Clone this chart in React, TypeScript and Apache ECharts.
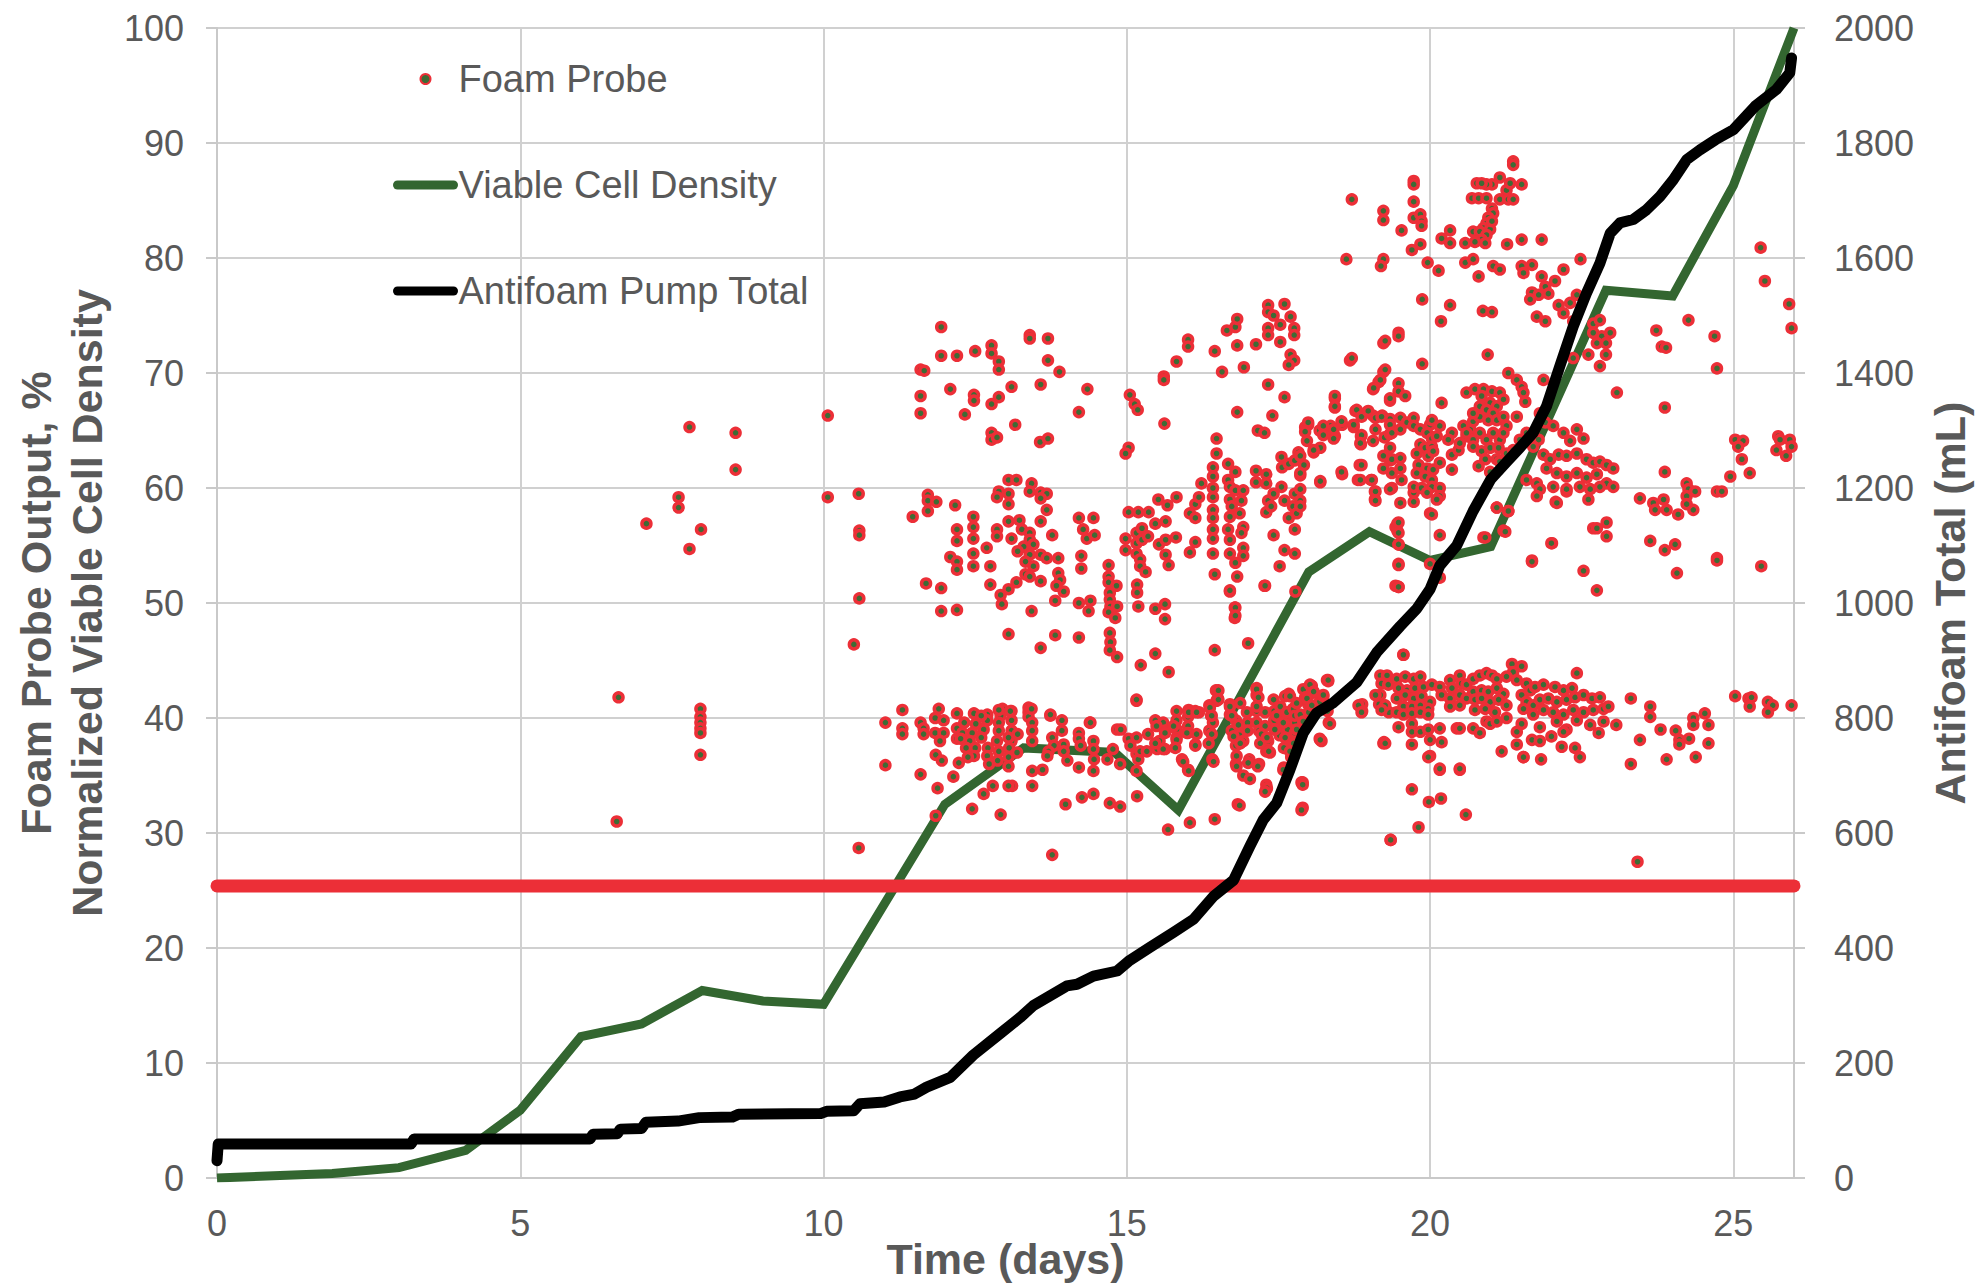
import React, { useEffect, useRef } from "react";
import * as echarts from "echarts";

const FONT = "'Liberation Sans', Arial, Helvetica, sans-serif";
const TEXT = "#595959";
const GRID = "#d0d0d0";

const seriesNames = ["Foam Probe", "Viable Cell Density", "Antifoam Pump Total"];
const xAxisTitle = "Time (days)";
const leftAxisTitle = "Foam Probe Output, %\nNormalized Viable Cell Density";
const rightAxisTitle = "Antifoam Total (mL)";

// Viable Cell Density (left axis, %) : [day, value]
const viableCellDensity: [number, number][] = [
  [0, 0], [1.9, 0.4], [3.0, 0.9], [4.1, 2.4], [5.0, 5.9], [6.0, 12.3], [7.0, 13.4],
  [8.0, 16.3], [9.0, 15.4], [10.0, 15.1], [12.0, 32.5], [13.3, 37.4], [14.8, 37.0],
  [15.85, 32.0], [18.0, 52.7], [19.0, 56.2], [20.0, 53.7], [21.0, 54.9], [22.9, 77.2],
  [24.0, 76.7], [25.0, 86.3], [26.0, 100],
];

// Antifoam pump total (right axis, mL) : [day, mL]
const antifoamTotal: [number, number][] = [
  [0, 30], [0.02, 59], [3.2, 59], [3.25, 68], [6.15, 68], [6.2, 76], [6.6, 77], [6.65, 85],
  [7.0, 86], [7.07, 97], [7.6, 99], [7.95, 105], [8.5, 106], [8.6, 111], [9.95, 112],
  [10.05, 116], [10.5, 117], [10.6, 129], [11.0, 132], [11.26, 141], [11.5, 146], [11.7, 158],
  [12.09, 175], [12.47, 214], [12.91, 251], [13.24, 279], [13.46, 300], [14.01, 334],
  [14.18, 337], [14.45, 351], [14.84, 360], [15.03, 377], [15.38, 401], [15.77, 427],
  [16.1, 450], [16.43, 490], [16.76, 518], [17.03, 577], [17.25, 623], [17.47, 652],
  [17.69, 710], [17.91, 774], [18.13, 809], [18.41, 827], [18.79, 862], [19.12, 914],
  [19.51, 960], [19.78, 990], [20.0, 1024], [20.16, 1065], [20.44, 1100], [20.71, 1160],
  [21.0, 1215], [21.26, 1245], [21.48, 1270], [21.7, 1296], [21.92, 1342], [22.14, 1412],
  [22.36, 1481], [22.58, 1539], [22.8, 1591], [22.97, 1643], [23.13, 1661], [23.35, 1667],
  [23.57, 1684], [23.79, 1707], [24.01, 1736], [24.23, 1771], [24.45, 1788], [24.71, 1806],
  [25.0, 1823], [25.36, 1864], [25.71, 1893], [25.93, 1922], [25.96, 1948],
];

// Foam probe resting output (dense band of readings)
const foamProbeBaseline: [number, number][] = [[0, 25.4], [26, 25.4]];

// Foam probe readings above the resting level : [day, %]
const foamProbePoints: [number, number][] = [
  [7.79,65.3],[8.55,64.8],[8.55,61.6],[7.61,59.2],[7.61,58.3],[7.08,56.9],[7.98,56.4],[7.79,54.7],[6.62,41.8],[7.97,40.8],[7.97,40.1],[7.97,39.6],[7.97,39.1],[7.97,38.7],[7.97,36.8],[6.59,31.0],[10.07,66.3],[10.07,59.2],[10.58,59.5],[10.59,56.3],[10.59,55.9],[10.59,50.4],[10.5,46.4],[10.58,28.7],[11.94,74.0],[11.94,71.5],[12.2,71.5],[11.6,70.3],[11.66,70.2],[12.09,68.6],[11.6,68.0],[11.6,66.5],[11.72,59.4],[11.72,58.9],[11.86,58.8],[11.47,57.5],[11.72,58.0],[12.17,58.5],[12.2,56.4],[12.2,55.4],[12.09,54.0],[12.2,53.6],[12.2,52.9],[11.69,51.7],[11.94,51.3],[11.94,49.3],[12.2,49.4],[11.02,39.6],[11.3,40.7],[11.3,39.1],[11.3,38.6],[11.6,39.6],[11.65,39.1],[11.65,38.6],[11.9,40.8],[11.84,40.0],[11.98,39.8],[11.84,38.7],[11.98,38.7],[11.92,38.0],[12.2,40.4],[12.2,39.1],[12.2,38.2],[11.02,35.9],[11.85,36.8],[11.95,36.3],[11.6,35.1],[11.88,33.9],[12.14,34.9],[11.85,31.5],
  [12.5,71.9],[12.77,72.4],[12.77,71.7],[12.89,71.0],[12.89,70.3],[13.4,73.3],[13.4,73.0],[13.7,73.0],[13.7,71.1],[13.89,70.1],[13.1,68.8],[13.58,69.0],[12.89,67.9],[12.77,67.3],[12.48,68.1],[12.48,67.6],[12.33,66.4],[14.35,68.6],[14.21,66.6],[13.16,65.5],[12.77,64.8],[12.77,64.2],[12.86,64.4],[13.57,64.0],[13.7,64.3],[15.05,68.1],[15.13,67.3],[15.18,66.8],[15.62,65.6],[15.61,69.7],[15.61,69.4],[15.03,63.5],[14.98,63.0],[15.82,71.0],[16.01,72.9],[16.01,72.3],[16.45,71.9],[16.57,70.1],[16.65,73.7],[16.79,74.0],[16.82,74.7],[16.93,70.5],[16.82,72.4],[17.13,72.5],[17.33,75.9],[17.33,75.3],[17.33,73.9],[17.33,73.3],[17.42,75.0],[17.53,74.2],[17.53,72.7],[17.6,76.0],[17.7,74.9],[17.76,73.9],[17.76,73.3],[17.7,71.6],[17.76,71.1],[17.67,70.7],[17.33,69.0],[17.6,67.9],[16.82,66.6],[17.4,66.3],[17.16,65.0],[17.27,64.8],[16.48,64.3],[18.68,71.1],[19.23,72.6],[19.23,70.1],[19.15,69.2],[19.06,68.6],
  [13.05,60.7],[13.18,60.7],[13.43,60.4],[12.89,59.7],[13.05,59.5],[12.86,59.2],[13.4,59.7],[13.58,59.6],[13.68,59.5],[13.58,59.1],[13.05,58.6],[13.68,58.1],[13.58,57.1],[13.05,57.1],[13.23,57.2],[12.86,56.4],[12.86,55.8],[13.1,55.6],[13.27,56.4],[13.4,56.1],[13.4,55.5],[13.77,55.9],[13.3,54.9],[13.46,55.1],[13.2,54.5],[13.4,54.2],[13.58,54.2],[13.68,53.9],[13.33,53.6],[13.46,53.2],[13.33,52.5],[13.4,52.3],[13.18,51.8],[13.58,51.9],[13.87,53.9],[13.87,52.6],[13.9,52.0],[13.84,51.5],[13.96,51.0],[14.25,54.1],[14.25,53.0],[14.21,57.4],[14.28,56.4],[14.34,55.6],[14.47,55.9],[14.45,57.4],[14.7,53.3],[14.7,52.3],[14.7,51.8],[14.83,51.5],[14.72,50.9],[14.72,50.3],[14.73,49.7],[14.84,49.7],[14.7,49.2],[14.81,48.7],[14.72,47.4],[14.73,46.6],[14.72,45.9],[14.84,45.3],[13.05,47.3],[13.58,46.1],[13.82,47.2],[14.21,47.0],[14.21,50.0],[14.37,49.3],[14.4,50.2],[13.82,50.2],[12.94,49.9],[12.92,50.7],[13.05,51.2],[13.43,49.3],[12.75,51.6],[12.75,53.2],[12.69,54.8],[12.47,54.3],[12.47,53.2],[12.47,57.5],[12.47,56.6],[12.47,55.6],[15.03,57.9],[15.19,57.9],[15.36,57.9],[15.52,59.0],[15.67,58.5],[15.82,59.2],[14.98,55.6],[14.98,54.6],[15.16,56.1],[15.25,56.5],[15.16,55.2],[15.25,55.5],[15.35,55.8],[15.16,54.3],[15.22,53.8],[15.22,53.2],[15.31,52.7],[15.47,56.9],[15.64,57.1],[15.53,55.1],[15.64,55.5],[15.81,55.7],[15.64,54.2],[15.69,53.3],[15.17,51.6],[15.17,50.9],[15.19,49.7],[15.47,49.5],[15.63,49.9],[15.63,48.6],[15.23,44.6],[15.47,45.6],[15.69,44.0],[16.45,45.9],[17.0,46.5],[16.04,57.8],[16.13,58.6],[16.19,59.2],[16.23,60.4],[16.13,57.4],[16.13,55.3],[16.04,54.4],[16.42,61.8],[16.42,61.0],[16.42,60.0],[16.42,59.2],[16.42,58.1],[16.42,57.4],[16.42,56.4],[16.42,55.6],[16.42,54.3],[16.48,63.0],[16.67,62.1],[16.67,60.7],[16.7,60.1],[16.7,59.0],[16.73,58.4],[16.7,57.5],[16.67,56.4],[16.7,55.5],[16.7,54.3],[16.79,53.5],[16.82,52.3],[16.79,61.4],[16.79,59.8],[16.92,59.8],[16.89,58.9],[16.86,57.8],[16.92,56.6],[16.89,56.1],[16.92,54.8],[16.92,54.1],[16.45,52.5],[16.7,51.0],[16.78,49.6],[16.78,48.7],[17.13,61.5],[17.13,60.5],[17.3,61.2],[17.3,60.4],[17.33,58.9],[17.3,57.9],[17.42,59.5],[17.38,58.4],[17.55,62.7],[17.56,61.8],[17.67,62.1],[17.77,62.4],[17.83,63.1],[17.92,62.0],[17.86,61.1],[17.55,60.1],[17.6,58.9],[17.77,59.5],[17.86,58.9],[17.74,58.4],[17.8,57.8],[17.67,57.4],[17.77,56.4],[17.42,55.9],[17.6,54.6],[17.77,54.3],[17.52,53.2],[17.27,51.5],[17.94,65.3],[17.99,65.5],[18.18,65.0],[18.36,65.4],[18.55,65.5],[18.43,64.5],[18.08,63.1],[18.19,63.5],[18.43,67.8],[18.43,67.0],[18.55,61.2],[18.19,60.5],[18.77,66.7],[18.96,66.6],[19.06,66.3],[19.21,66.3],[19.34,66.0],[18.74,65.3],[18.86,64.5],[18.86,63.8],[19.06,64.1],[19.25,64.4],[18.84,62.0],[18.81,60.7],[19.03,60.7],[19.09,59.7],[19.09,59.0],[19.34,67.6],[19.34,64.7],[19.34,63.5],[19.34,62.4],[19.43,56.6],[19.43,51.5],[19.23,37.8],
  [15.16,41.5],[13.38,40.9],[13.38,40.5],[13.38,40.1],[13.44,39.6],[13.44,38.9],[13.44,38.0],[13.1,40.6],[13.1,39.8],[13.1,38.9],[13.1,38.0],[12.95,40.8],[12.92,40.2],[12.89,39.6],[12.89,38.9],[12.86,38.0],[12.89,37.1],[12.87,36.3],[12.7,40.3],[12.7,39.8],[12.64,39.0],[12.6,38.3],[12.71,37.4],[12.7,36.7],[12.73,36.0],[12.54,40.2],[12.51,39.5],[12.45,38.7],[12.41,38.0],[12.5,37.4],[12.48,36.7],[12.32,39.6],[12.29,38.7],[12.26,38.2],[12.35,37.4],[12.38,36.6],[12.23,36.1],[13.05,38.3],[13.06,37.4],[13.05,36.6],[13.05,35.8],[13.2,38.6],[13.19,37.0],[13.74,40.2],[13.93,39.8],[13.93,38.9],[13.77,38.3],[13.8,37.6],[13.96,37.7],[13.96,37.1],[14.02,36.3],[13.71,37.1],[13.69,36.7],[13.61,35.5],[13.44,35.4],[14.21,38.7],[14.21,38.2],[14.21,35.7],[14.24,37.6],[14.39,39.6],[14.45,38.0],[14.45,37.3],[14.46,36.4],[14.45,35.4],[14.68,36.4],[14.77,37.3],[14.84,39.0],[14.9,39.0],[14.89,36.0],[15.03,38.2],[15.06,37.6],[15.16,38.3],[15.16,36.9],[15.19,36.4],[15.16,35.4],[15.22,37.1],[15.33,37.1],[15.35,38.6],[15.47,39.8],[15.54,38.0],[15.5,37.3],[15.6,39.6],[15.63,38.9],[15.63,37.3],[15.82,40.6],[15.82,39.8],[15.82,39.0],[15.82,38.3],[15.91,36.4],[16.01,35.5],[16.01,40.6],[16.01,40.1],[16.01,39.3],[16.01,38.7],[16.13,40.6],[16.13,37.7],[16.36,41.1],[16.39,40.2],[16.36,38.9],[16.42,39.6],[16.48,41.5],[16.7,41.2],[16.7,40.3],[16.8,39.8],[16.73,38.9],[16.8,37.6],[16.86,38.5],[16.92,38.0],[16.8,36.0],[16.92,35.0],[16.99,39.6],[16.99,38.9],[17.02,36.4],[17.14,40.6],[17.14,39.6],[17.18,38.9],[17.18,36.0],[17.3,37.1],[17.33,38.0],[17.36,37.0],[17.3,34.2],[17.3,33.8],[17.43,40.6],[17.43,39.8],[17.46,39.0],[17.52,38.5],[17.62,40.1],[17.65,39.0],[17.59,37.4],[17.74,40.8],[17.77,39.6],[17.77,38.7],[17.8,37.7],[17.71,36.6],[17.9,34.4],[17.9,32.2],[16.83,32.5],[17.59,35.7],[16.41,36.4],[16.45,31.2],[16.04,30.9],[15.68,30.3],[15.17,33.2],[14.89,32.3],[14.72,32.6],[14.45,33.4],[14.26,33.1],[13.99,32.5],[13.44,34.1],[13.11,34.1],[13.05,34.1],[12.79,34.1],[12.64,33.4],[12.45,32.1],[12.92,31.6],[13.77,28.1],[18.33,39.6],[18.31,40.6],[18.18,38.2],[18.88,41.2],[18.88,40.6],[19.24,37.9],[19.35,29.4],[19.16,41.2],[19.26,40.9],[19.32,40.5],[17.99,41.2],[18.09,40.6],[18.18,41.4],[17.99,40.1],
  [12.48,40.4],[12.6,40.2],[12.89,40.7],[13.08,40.6],[13.43,40.8],[13.74,40.3],[14.4,39.6],[15.16,41.6],[16.02,40.7],[16.19,40.5],[16.47,42.4],[16.5,41.7],[17.14,42.6],[17.14,42.0],[17.67,42.1],[18.02,42.8],[18.3,43.3],
  [15.49,39.3],[15.63,38.7],[15.77,39.3],[15.82,38.1],[15.47,37.8],[15.6,37.3],[15.8,37.4],[16.02,40.5],[16.15,40.5],[15.99,38.7],[16.15,38.6],[16.13,37.6],[15.93,36.2],[16.02,35.4],[16.37,40.9],[16.51,42.4],[16.51,41.6],[16.4,40.2],[16.4,38.6],[16.35,37.8],[16.43,36.2],[16.7,41.0],[16.87,41.3],[16.73,40.2],[16.84,39.4],[16.98,40.5],[16.76,38.4],[16.87,37.8],[16.81,36.7],[17.0,36.1],[16.81,35.8],[17.16,35.8],[17.14,42.5],[17.17,41.8],[17.14,41.0],[17.28,40.5],[17.28,39.3],[17.22,38.6],[17.2,37.8],[17.34,37.1],[17.31,38.3],[17.42,41.6],[17.53,41.0],[17.61,41.9],[17.47,40.2],[17.58,39.6],[17.64,40.5],[17.75,40.8],[17.44,39.0],[17.61,38.3],[17.69,41.9],[17.8,41.3],[17.91,42.5],[17.94,41.8],[18.05,42.8],[18.08,42.2],[18.24,41.9],[18.32,43.2],[17.77,40.2],[17.91,39.9],[18.02,41.0],[17.8,39.0],[17.75,37.8],[17.69,37.1],[18.21,38.0],[17.58,35.5],[17.88,34.4],[17.88,32.0],[17.31,33.9],[17.28,33.6],[16.86,32.4],[17.03,34.7],[20.49,35.5],[20.0,36.7],[20.16,35.5],
  [16.7,51.1],[16.79,49.6],[16.79,48.9],[17.28,51.5],[17.78,51.0],[19.48,55.1],[19.48,53.4],[19.48,51.4],[19.46,56.9],[19.46,56.3],[20.0,53.4],[20.16,55.9],[20.16,52.2],[20.88,55.7],[21.1,58.3],[21.29,58.0],[21.21,56.3],[21.68,53.7],[22.01,55.2],[22.07,58.8],[19.56,45.5],
  [21.37,88.4],[21.37,88.1],[21.15,87.0],[21.02,86.4],[20.93,86.4],[20.77,86.5],[20.85,86.5],[21.26,85.9],[21.32,86.5],[21.51,86.4],[20.69,85.2],[20.8,85.2],[20.93,85.2],[21.15,85.1],[21.29,85.1],[21.37,85.1],[21.02,84.3],[21.04,83.9],[20.96,83.5],[20.93,83.0],[20.88,82.6],[20.99,82.5],[21.02,83.2],[20.71,82.3],[20.82,82.3],[20.93,82.0],[20.85,81.6],[20.74,81.4],[20.91,81.3],[21.27,81.2],[21.51,81.6],[21.84,81.6],[20.33,82.4],[20.19,81.7],[20.33,81.3],[20.58,81.3],[19.73,86.7],[19.73,86.4],[19.73,84.9],[19.23,84.1],[19.23,83.3],[19.73,83.5],[19.84,83.8],[19.86,83.2],[19.86,82.8],[18.71,85.1],[19.53,82.4],[19.84,81.2],[19.7,80.7],[18.62,79.9],[19.23,79.9],[19.19,79.3],[19.96,79.6],[20.14,78.9],[20.58,79.6],[20.71,79.9],[20.8,78.4],[21.04,79.3],[21.15,79.0],[21.51,79.3],[21.68,79.4],[21.54,78.7],[21.84,78.4],[22.06,78.0],[21.9,77.5],[21.95,76.9],[22.2,79.0],[22.48,79.9],[21.68,77.0],[21.79,76.8],[21.65,76.4],[21.9,74.5],[21.76,74.9],[22.12,75.9],[22.2,75.2],[22.31,76.1],[22.42,76.8],[22.36,74.5],[22.69,74.3],[22.8,74.6],[22.69,73.5],[22.83,73.2],[22.97,73.5],[22.75,72.6],[22.9,72.6],[22.61,71.6],[22.9,71.6],[22.8,70.6],[22.36,71.3],[20.87,75.4],[21.02,75.3],[20.33,75.9],[20.18,74.5],[19.87,76.4],[19.48,73.5],[19.48,73.2],[19.26,72.8],[18.71,71.3],[19.87,70.8],[20.95,71.6],[23.73,73.7],[23.82,72.3],[23.89,72.2],[24.26,74.6],[24.69,73.2],[24.73,70.4],[25.45,80.9],[25.52,78.0],[25.92,76.0],[25.96,73.9],[23.08,68.3],[23.87,67.0],[21.87,69.4],
  [19.26,70.3],[19.18,69.4],[19.07,68.7],[19.48,69.1],[19.48,68.4],[19.34,67.8],[19.59,68.0],[18.43,68.0],[18.43,67.1],[18.79,66.8],[18.87,66.2],[18.98,66.7],[18.74,65.5],[18.87,64.6],[18.85,63.9],[18.54,65.8],[18.41,65.1],[18.41,64.3],[18.24,65.4],[18.24,64.6],[17.99,65.7],[17.94,64.9],[17.97,64.1],[18.08,63.3],[18.19,60.6],[17.86,62.8],[17.86,61.3],[17.86,59.9],[17.86,58.4],[19.1,66.1],[19.1,65.1],[19.2,66.2],[19.34,65.5],[19.37,64.8],[19.51,66.1],[19.62,65.7],[19.51,65.1],[19.23,62.8],[19.37,62.5],[19.51,62.6],[19.51,61.7],[19.23,61.7],[19.37,61.3],[19.53,60.7],[19.37,60.0],[19.04,60.7],[18.85,60.7],[18.54,61.4],[18.87,62.0],[19.1,59.7],[19.1,58.9],[19.34,59.9],[19.51,58.7],[19.73,59.6],[19.73,58.8],[19.48,57.0],[19.48,56.1],[19.48,55.1],[19.73,66.1],[19.73,65.4],[19.84,65.1],[20.0,65.5],[20.03,65.9],[19.95,64.8],[20.03,64.3],[19.84,63.8],[19.92,63.5],[20.03,63.6],[19.78,63.0],[19.97,62.8],[20.05,63.2],[19.81,62.0],[19.95,61.7],[20.05,61.6],[19.78,61.3],[19.92,61.0],[20.03,60.7],[19.73,60.1],[19.86,60.0],[20.03,60.1],[19.95,59.6],[20.16,60.0],[20.16,59.3],[20.11,59.0],[20.0,57.8],[20.03,57.7],[20.19,67.4],[20.36,64.8],[20.3,64.2],[20.16,65.4],[20.11,64.5],[20.36,62.9],[20.16,62.2],[20.36,61.6],[20.47,63.3],[20.49,63.9],[20.6,64.5],[20.66,65.1],[20.71,65.8],[20.6,68.3],[20.74,68.6],[20.88,68.6],[21.02,68.4],[21.15,68.3],[20.85,68.0],[20.99,67.4],[21.1,67.1],[21.21,67.7],[20.82,67.1],[20.93,66.8],[21.04,66.5],[20.82,66.2],[20.96,65.9],[21.1,65.9],[21.21,66.2],[20.71,66.5],[21.29,70.0],[21.43,69.4],[21.51,68.8],[21.54,68.3],[21.57,67.5],[21.43,66.2],[21.26,65.4],[20.55,65.4],[20.6,64.8],[20.71,64.2],[20.82,64.8],[20.93,64.2],[21.04,64.8],[21.15,64.2],[21.21,64.8],[20.71,63.6],[20.85,63.2],[20.99,63.5],[21.13,63.5],[21.26,63.0],[20.91,62.5],[21.1,62.5],[20.8,61.9],[20.99,61.4],[21.15,62.3],[21.37,63.3],[21.48,64.2],[21.59,64.8],[21.81,66.5],[21.9,65.7],[22.03,65.4],[22.2,64.8],[22.31,64.1],[22.42,65.1],[22.53,64.3],[21.7,64.8],[21.79,64.2],[21.7,63.6],[21.87,62.9],[21.98,62.5],[22.12,62.9],[22.25,62.8],[22.42,63.0],[22.58,62.5],[22.69,62.2],[22.8,62.3],[22.91,62.0],[21.92,61.7],[22.09,61.3],[22.25,61.0],[22.42,61.3],[22.58,60.9],[22.75,61.2],[22.91,60.4],[23.02,61.7],[21.59,60.7],[21.76,60.4],[21.81,59.9],[22.03,60.1],[22.25,59.7],[22.47,60.1],[22.64,59.9],[22.8,60.1],[23.02,60.1],[21.76,59.3],[22.09,58.7],[22.25,59.9],[22.61,59.0],[21.1,58.3],[21.29,58.0],[21.24,56.2],[20.91,55.7],[22.91,57.0],[22.69,56.5],[22.75,56.5],[22.91,55.8],[22.0,55.2],[23.46,59.1],[23.68,58.7],[23.85,59.0],[23.71,58.1],[23.9,58.1],[24.09,57.7],[23.87,61.4],[24.23,60.4],[24.26,59.9],[24.23,59.3],[24.37,59.7],[24.34,58.1],[24.23,58.6],[23.63,55.4],[23.87,54.6],[24.04,55.1],[24.73,59.7],[24.81,59.7],[24.95,61.0],[25.03,64.2],[25.16,64.1],[25.08,63.6],[25.14,62.5],[25.27,61.3],[25.74,64.5],[25.77,64.2],[25.93,64.2],[25.71,63.3],[25.87,62.8],[25.96,63.6],[24.73,53.9],
  [19.48,53.3],[19.48,51.4],[22.53,52.8],[22.75,51.1],[24.07,52.6],[25.46,53.2],[21.68,53.6],[24.73,53.7],[19.56,45.5],[18.32,43.3],[18.02,42.9],[18.08,42.3],[17.97,41.7],[18.24,42.0],[17.86,40.3],[17.91,39.7],[18.0,40.5],[18.05,41.1],[18.82,41.1],[18.87,40.5],[18.35,39.5],[18.19,38.1],[17.9,34.2],[19.18,43.7],[19.29,43.7],[19.2,43.0],[19.31,42.9],[19.18,42.0],[19.1,42.0],[19.26,41.1],[19.2,40.7],[19.45,43.4],[19.59,43.6],[19.73,43.4],[19.84,43.6],[19.48,42.6],[19.62,42.4],[19.75,42.6],[19.89,42.7],[20.03,42.9],[19.45,41.7],[19.59,42.0],[19.73,41.7],[19.86,41.9],[20.0,41.4],[19.56,41.0],[19.7,41.0],[19.84,41.1],[19.97,40.8],[19.45,40.5],[19.56,40.3],[19.7,40.4],[19.84,40.5],[19.97,40.3],[19.48,39.2],[19.7,39.5],[19.7,38.8],[19.84,38.8],[19.97,39.0],[20.0,38.1],[19.7,37.7],[19.26,37.8],[19.97,36.6],[20.16,39.1],[20.19,37.9],[20.16,35.6],[20.16,42.7],[20.19,42.0],[20.33,43.3],[20.36,42.6],[20.33,41.7],[20.33,41.0],[20.49,43.7],[20.52,43.0],[20.49,42.0],[20.49,41.1],[20.44,39.1],[20.49,39.1],[20.49,35.6],[20.6,42.9],[20.71,43.4],[20.82,43.7],[20.93,43.9],[21.02,43.7],[21.1,43.4],[20.71,42.3],[20.85,42.4],[20.96,42.3],[21.1,42.6],[21.21,42.1],[20.6,41.7],[20.74,41.6],[20.85,41.7],[20.99,41.4],[21.13,41.6],[21.26,41.1],[20.91,40.8],[21.07,40.5],[20.74,40.7],[20.71,39.1],[20.82,38.7],[20.93,39.7],[20.99,39.5],[21.1,39.7],[21.26,40.0],[21.35,44.7],[21.51,44.5],[21.37,44.0],[21.26,43.6],[21.43,43.3],[21.59,43.0],[21.18,37.1],[21.43,38.8],[21.43,37.7],[21.54,36.6],[21.51,42.0],[21.65,42.4],[21.73,42.7],[21.87,42.9],[22.06,42.7],[22.2,42.4],[22.34,42.6],[21.59,41.4],[21.7,41.1],[21.81,41.6],[21.95,41.7],[22.09,41.4],[22.25,41.6],[22.39,41.8],[22.53,42.0],[22.67,41.7],[22.8,41.8],[21.54,40.8],[21.7,40.3],[21.87,40.7],[22.03,40.5],[22.2,40.3],[22.36,40.7],[22.53,40.5],[22.69,40.7],[22.86,40.8],[22.94,41.0],[21.51,39.5],[21.81,39.2],[22.09,39.7],[22.25,39.0],[22.42,39.8],[22.64,39.4],[22.78,38.7],[22.86,39.7],[21.68,38.1],[21.81,38.0],[22.0,38.4],[22.2,38.8],[22.17,37.5],[22.39,37.4],[22.47,36.6],[21.54,36.6],[21.83,36.4],[22.42,43.9],[23.07,39.4],[23.31,41.7],[23.63,41.0],[23.63,40.1],[23.46,38.1],[23.31,36.0],[23.8,39.0],[24.05,38.9],[24.11,38.1],[24.27,38.2],[24.11,37.7],[24.34,40.0],[24.34,39.4],[23.9,36.4],[24.38,36.6],[24.53,40.4],[24.59,39.4],[24.59,37.8],[25.03,41.9],[25.25,41.7],[25.3,41.8],[25.27,41.0],[25.57,41.4],[25.65,41.1],[25.57,40.5],[25.96,41.1],[23.42,27.5],[19.7,33.8],[19.98,32.7],[20.18,33.0],[20.59,31.6],[19.81,30.5],[19.35,29.4],
];

const RED = "#ec2f37";
const DOT_FILL = "#3e6b35";
const GREEN = "#336630";

export default function App() {
  const ref = useRef<HTMLDivElement>(null);

  useEffect(() => {
    if (!ref.current) return;
    const chart = echarts.init(ref.current, null, { renderer: "svg" });
    const axisLabelBase = { fontSize: 36, color: TEXT, fontFamily: FONT };
    const axisNameBase = { fontSize: 43, fontWeight: "bold" as const, color: TEXT, fontFamily: FONT, lineHeight: 51 };
    chart.setOption({
      animation: false,
      backgroundColor: "#ffffff",
      grid: {
        left: 217, right: 186, top: 28, bottom: 109,
        containLabel: false,
        outerBoundsMode: "none",
      },
      legend: {
        orient: "vertical",
        left: 388,
        top: 54,
        itemWidth: 56,
        itemHeight: 10,
        itemGap: 66,
        selectedMode: false,
        textStyle: { fontSize: 38, color: TEXT, fontFamily: FONT, lineHeight: 40 },
        lineStyle: { width: 9, cap: "round" },
        data: [
          { name: seriesNames[0], icon: "circle" },
          { name: seriesNames[1] },
          { name: seriesNames[2] },
        ],
      },
      xAxis: {
        type: "value",
        min: 0,
        max: 26,
        interval: 5,
        name: xAxisTitle,
        nameLocation: "middle",
        nameGap: 59,
        nameMoveOverlap: false,
        nameTextStyle: { ...axisNameBase, lineHeight: 43 },
        axisLine: { show: true, lineStyle: { color: "#c9c9c9", width: 2 } },
        axisTick: { show: false },
        axisLabel: { ...axisLabelBase, margin: 27, showMaxLabel: false },
        splitLine: { show: true, lineStyle: { color: GRID, width: 2 } },
      },
      yAxis: [
        {
          type: "value",
          position: "left",
          min: 0,
          max: 100,
          interval: 10,
          name: leftAxisTitle,
          nameLocation: "middle",
          nameRotate: 90,
          nameGap: 105,
          nameMoveOverlap: false,
          nameTextStyle: axisNameBase,
          axisLine: { show: true, lineStyle: { color: "#c9c9c9", width: 2 } },
          axisTick: { show: true, inside: false, length: 11, lineStyle: { color: "#c9c9c9", width: 2 } },
          axisLabel: { ...axisLabelBase, margin: 33 },
          splitLine: { show: true, lineStyle: { color: GRID, width: 2 } },
        },
        {
          type: "value",
          position: "right",
          min: 0,
          max: 2000,
          interval: 200,
          name: rightAxisTitle,
          nameLocation: "middle",
          nameRotate: 90,
          nameGap: 130,
          nameMoveOverlap: false,
          nameTextStyle: axisNameBase,
          axisLine: { show: true, lineStyle: { color: "#c9c9c9", width: 2 } },
          axisTick: { show: true, inside: false, length: 11, lineStyle: { color: "#c9c9c9", width: 2 } },
          axisLabel: { ...axisLabelBase, margin: 40, formatter: (v: number) => String(v) },
          splitLine: { show: false },
        },
      ],
      series: [
        {
          name: seriesNames[1],
          type: "line",
          yAxisIndex: 0,
          data: viableCellDensity,
          symbol: "none",
          z: 2,
          lineStyle: { color: GREEN, width: 9, join: "miter" },
          itemStyle: { color: GREEN },
        },
        {
          name: "Foam Probe resting level",
          type: "line",
          yAxisIndex: 0,
          data: foamProbeBaseline,
          symbol: "none",
          clip: false,
          z: 3,
          lineStyle: { color: RED, width: 13, cap: "round" },
          itemStyle: { color: RED },
        },
        {
          name: seriesNames[0],
          type: "scatter",
          yAxisIndex: 0,
          data: foamProbePoints,
          symbol: "circle",
          symbolSize: 9,
          z: 3,
          itemStyle: { color: DOT_FILL, borderColor: RED, borderWidth: 3.5, opacity: 1 },
        },
        {
          name: seriesNames[2],
          type: "line",
          yAxisIndex: 1,
          data: antifoamTotal,
          symbol: "none",
          z: 4,
          lineStyle: { color: "#000000", width: 11, cap: "round", join: "round" },
          itemStyle: { color: "#000000" },
        },
      ],
    });
    return () => chart.dispose();
  }, []);

  return (
    <div
      ref={ref}
      style={{ position: "absolute", left: 0, top: 0, width: 1980, height: 1287, background: "#ffffff" }}
    />
  );
}
